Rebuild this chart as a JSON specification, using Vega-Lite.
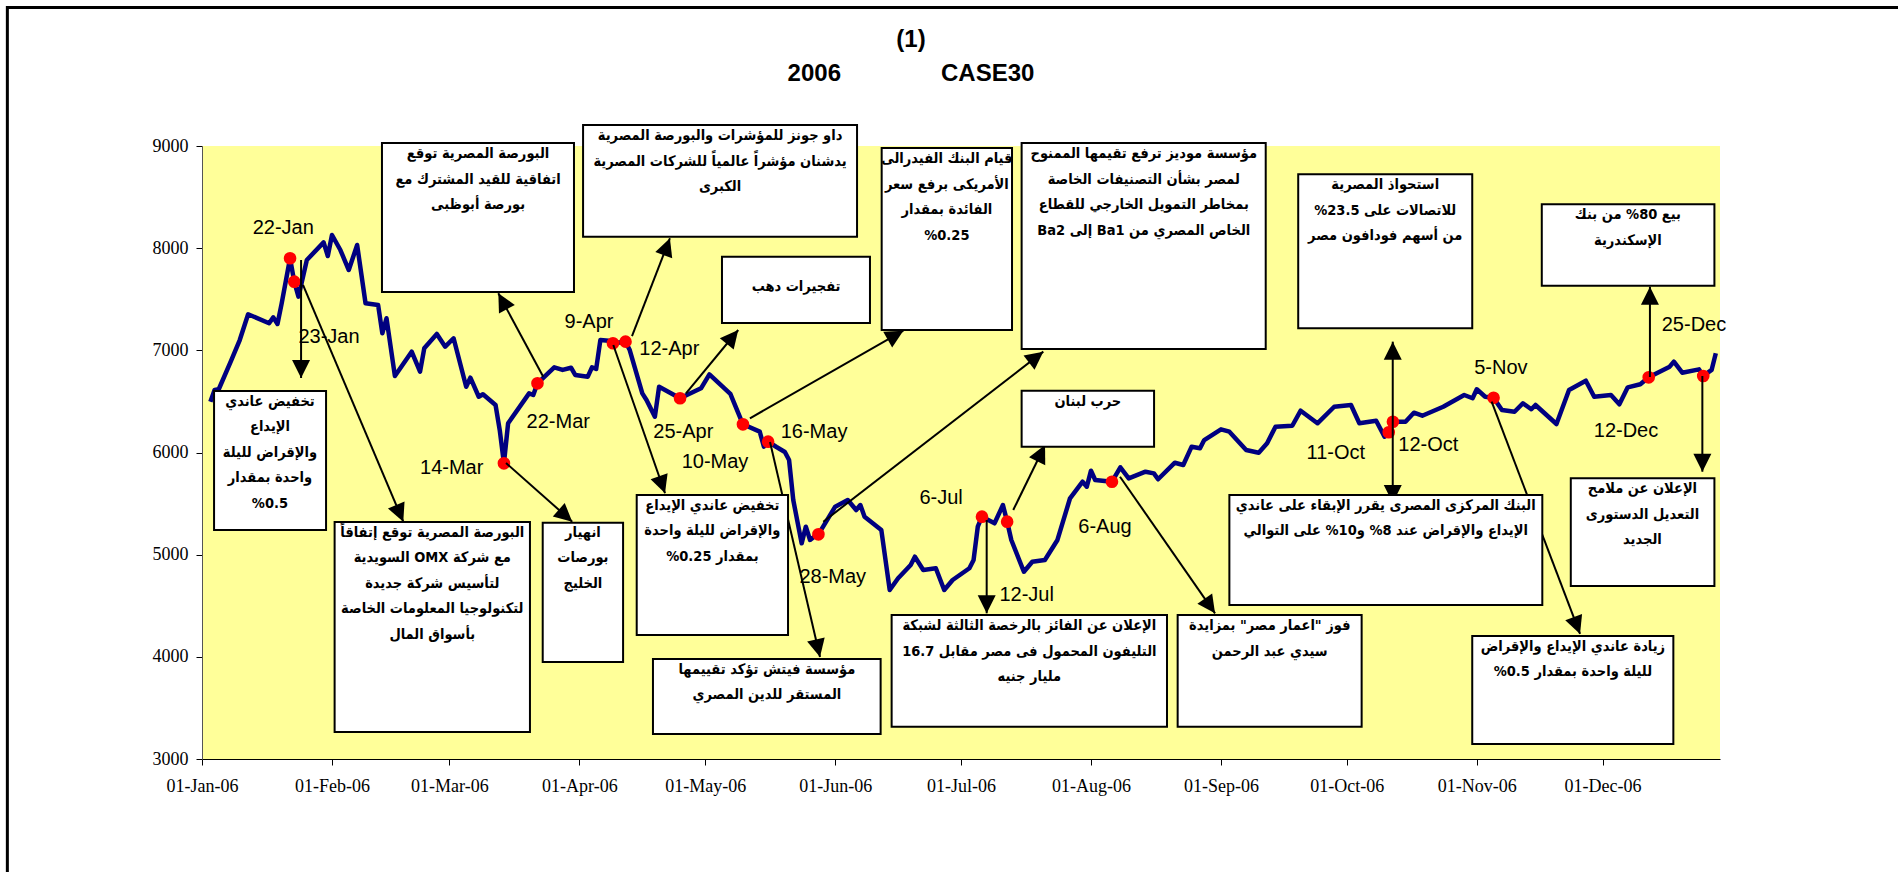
{
  "$schema": "https://vega.github.io/schema/vega-lite/v6.json",
  "width": 1518,
  "height": 613,
  "autosize": {"type": "none"},
  "padding": {"left": 202, "top": 146, "right": 178, "bottom": 113},
  "background": "white",
  "title": {
    "text": ["(1)", "2006\u00a0\u00a0\u00a0\u00a0\u00a0\u00a0\u00a0\u00a0\u00a0\u00a0\u00a0\u00a0\u00a0\u00a0\u00a0CASE30\u00a0\u00a0\u00a0\u00a0\u00a0"],
    "anchor": "middle",
    "frame": "group",
    "dx": -50,
    "offset": -80,
    "baseline": "top",
    "lineHeight": 34,
    "font": "Liberation Sans",
    "fontSize": 24,
    "fontWeight": "bold",
    "color": "#000"
  },
  "config": {
    "view": {"fill": "#FFFF99", "stroke": null},
    "axis": {"labelFont": "Liberation Serif", "labelFontSize": 18, "labelColor": "#000", "tickColor": "#000", "domainColor": "#000", "tickSize": 6, "grid": false}
  },
  "datasets": {
    "frame": [{"x1": "2005-11-15T14:00:00Z", "x2": "2007-03-01", "y1": 10356, "y2": 1000}],
    "series": [
      {"date": "2006-01-03", "value": 6497}, {"date": "2006-01-04", "value": 6612}, {"date": "2006-01-05", "value": 6619},
      {"date": "2006-01-08", "value": 6905}, {"date": "2006-01-10", "value": 7101}, {"date": "2006-01-12", "value": 7353},
      {"date": "2006-01-17", "value": 7265}, {"date": "2006-01-18", "value": 7323}, {"date": "2006-01-19", "value": 7258},
      {"date": "2006-01-20", "value": 7460}, {"date": "2006-01-22", "value": 7901}, {"date": "2006-01-23", "value": 7672},
      {"date": "2006-01-24", "value": 7525}, {"date": "2006-01-26", "value": 7884}, {"date": "2006-01-30", "value": 8057},
      {"date": "2006-01-31", "value": 7923}, {"date": "2006-02-01", "value": 8129}, {"date": "2006-02-03", "value": 7982},
      {"date": "2006-02-05", "value": 7786}, {"date": "2006-02-07", "value": 8031}, {"date": "2006-02-09", "value": 7460},
      {"date": "2006-02-12", "value": 7444}, {"date": "2006-02-13", "value": 7167}, {"date": "2006-02-14", "value": 7314},
      {"date": "2006-02-16", "value": 6749}, {"date": "2006-02-20", "value": 6987}, {"date": "2006-02-22", "value": 6791},
      {"date": "2006-02-23", "value": 7020}, {"date": "2006-02-26", "value": 7160}, {"date": "2006-02-28", "value": 7036},
      {"date": "2006-03-02", "value": 7118}, {"date": "2006-03-05", "value": 6644}, {"date": "2006-03-06", "value": 6732},
      {"date": "2006-03-08", "value": 6546}, {"date": "2006-03-09", "value": 6570}, {"date": "2006-03-12", "value": 6465},
      {"date": "2006-03-13", "value": 6220}, {"date": "2006-03-14", "value": 5894}, {"date": "2006-03-15", "value": 6286},
      {"date": "2006-03-20", "value": 6579}, {"date": "2006-03-21", "value": 6563}, {"date": "2006-03-22", "value": 6677},
      {"date": "2006-03-26", "value": 6834}, {"date": "2006-03-28", "value": 6808}, {"date": "2006-03-30", "value": 6830},
      {"date": "2006-03-31", "value": 6759}, {"date": "2006-04-03", "value": 6742}, {"date": "2006-04-04", "value": 6834},
      {"date": "2006-04-05", "value": 6817}, {"date": "2006-04-06", "value": 7101}, {"date": "2006-04-08", "value": 7094},
      {"date": "2006-04-09", "value": 7069}, {"date": "2006-04-12", "value": 7085}, {"date": "2006-04-13", "value": 7003},
      {"date": "2006-04-16", "value": 6579}, {"date": "2006-04-17", "value": 6514}, {"date": "2006-04-19", "value": 6350},
      {"date": "2006-04-20", "value": 6644}, {"date": "2006-04-25", "value": 6531}, {"date": "2006-04-30", "value": 6628},
      {"date": "2006-05-02", "value": 6765}, {"date": "2006-05-07", "value": 6573}, {"date": "2006-05-10", "value": 6276},
      {"date": "2006-05-14", "value": 6204}, {"date": "2006-05-15", "value": 6057}, {"date": "2006-05-16", "value": 6106},
      {"date": "2006-05-18", "value": 6054}, {"date": "2006-05-20", "value": 6005}, {"date": "2006-05-21", "value": 5927},
      {"date": "2006-05-22", "value": 5535}, {"date": "2006-05-24", "value": 5111}, {"date": "2006-05-25", "value": 5274},
      {"date": "2006-05-26", "value": 5144}, {"date": "2006-05-27", "value": 5176}, {"date": "2006-05-28", "value": 5199},
      {"date": "2006-06-01", "value": 5470}, {"date": "2006-06-04", "value": 5535}, {"date": "2006-06-06", "value": 5437},
      {"date": "2006-06-07", "value": 5486}, {"date": "2006-06-08", "value": 5372}, {"date": "2006-06-12", "value": 5241},
      {"date": "2006-06-14", "value": 4654}, {"date": "2006-06-16", "value": 4769}, {"date": "2006-06-19", "value": 4899},
      {"date": "2006-06-20", "value": 4980}, {"date": "2006-06-22", "value": 4850}, {"date": "2006-06-25", "value": 4867},
      {"date": "2006-06-27", "value": 4654}, {"date": "2006-06-29", "value": 4752}, {"date": "2006-07-03", "value": 4867},
      {"date": "2006-07-04", "value": 4948}, {"date": "2006-07-05", "value": 5274}, {"date": "2006-07-06", "value": 5372},
      {"date": "2006-07-09", "value": 5307}, {"date": "2006-07-11", "value": 5486}, {"date": "2006-07-12", "value": 5323},
      {"date": "2006-07-13", "value": 5144}, {"date": "2006-07-16", "value": 4833}, {"date": "2006-07-18", "value": 4931},
      {"date": "2006-07-21", "value": 4948}, {"date": "2006-07-24", "value": 5144}, {"date": "2006-07-27", "value": 5552},
      {"date": "2006-07-30", "value": 5714}, {"date": "2006-07-31", "value": 5665}, {"date": "2006-08-01", "value": 5822},
      {"date": "2006-08-02", "value": 5731}, {"date": "2006-08-06", "value": 5714}, {"date": "2006-08-08", "value": 5855},
      {"date": "2006-08-10", "value": 5747}, {"date": "2006-08-14", "value": 5812}, {"date": "2006-08-16", "value": 5796},
      {"date": "2006-08-17", "value": 5738}, {"date": "2006-08-21", "value": 5900}, {"date": "2006-08-23", "value": 5878},
      {"date": "2006-08-25", "value": 6057}, {"date": "2006-08-27", "value": 6041}, {"date": "2006-08-28", "value": 6122},
      {"date": "2006-09-01", "value": 6227}, {"date": "2006-09-03", "value": 6204}, {"date": "2006-09-07", "value": 6024},
      {"date": "2006-09-10", "value": 5998}, {"date": "2006-09-12", "value": 6090}, {"date": "2006-09-14", "value": 6253},
      {"date": "2006-09-18", "value": 6262}, {"date": "2006-09-20", "value": 6409}, {"date": "2006-09-24", "value": 6286},
      {"date": "2006-09-28", "value": 6448}, {"date": "2006-10-02", "value": 6465}, {"date": "2006-10-04", "value": 6286},
      {"date": "2006-10-08", "value": 6311}, {"date": "2006-10-10", "value": 6155}, {"date": "2006-10-11", "value": 6198},
      {"date": "2006-10-12", "value": 6301}, {"date": "2006-10-15", "value": 6301}, {"date": "2006-10-17", "value": 6390},
      {"date": "2006-10-19", "value": 6360}, {"date": "2006-10-24", "value": 6448}, {"date": "2006-10-29", "value": 6563},
      {"date": "2006-10-31", "value": 6531}, {"date": "2006-11-01", "value": 6619}, {"date": "2006-11-03", "value": 6546},
      {"date": "2006-11-05", "value": 6536}, {"date": "2006-11-07", "value": 6416}, {"date": "2006-11-10", "value": 6399},
      {"date": "2006-11-12", "value": 6482}, {"date": "2006-11-14", "value": 6423}, {"date": "2006-11-15", "value": 6465},
      {"date": "2006-11-20", "value": 6279}, {"date": "2006-11-23", "value": 6612}, {"date": "2006-11-27", "value": 6703},
      {"date": "2006-11-29", "value": 6546}, {"date": "2006-12-03", "value": 6563}, {"date": "2006-12-05", "value": 6472},
      {"date": "2006-12-07", "value": 6638}, {"date": "2006-12-10", "value": 6668}, {"date": "2006-12-12", "value": 6736},
      {"date": "2006-12-17", "value": 6840}, {"date": "2006-12-18", "value": 6889}, {"date": "2006-12-20", "value": 6781},
      {"date": "2006-12-24", "value": 6814}, {"date": "2006-12-25", "value": 6749}, {"date": "2006-12-27", "value": 6808},
      {"date": "2006-12-28", "value": 6971}
    ],
    "events": [
      {"date": "2006-01-22", "value": 7901, "label": "22-Jan", "ld": "2006-01-20T09:00:00Z", "lv": 8200},
      {"date": "2006-01-23", "value": 7672, "label": "23-Jan", "ld": "2006-01-31T07:00:00Z", "lv": 7134},
      {"date": "2006-03-14", "value": 5894, "label": "14-Mar", "ld": "2006-03-01T13:00:00Z", "lv": 5845},
      {"date": "2006-03-22", "value": 6677, "label": "22-Mar", "ld": "2006-03-26T23:00:00Z", "lv": 6301},
      {"date": "2006-04-09", "value": 7069, "label": "9-Apr", "ld": "2006-04-03T07:00:00Z", "lv": 7280},
      {"date": "2006-04-12", "value": 7085, "label": "12-Apr", "ld": "2006-04-22T11:00:00Z", "lv": 7013},
      {"date": "2006-04-25", "value": 6531, "label": "25-Apr", "ld": "2006-04-25T19:00:00Z", "lv": 6204},
      {"date": "2006-05-10", "value": 6276, "label": "10-May", "ld": "2006-05-03T08:00:00Z", "lv": 5907},
      {"date": "2006-05-16", "value": 6106, "label": "16-May", "ld": "2006-05-26T23:00:00Z", "lv": 6204},
      {"date": "2006-05-28", "value": 5199, "label": "28-May", "ld": "2006-05-31T10:00:00Z", "lv": 4784},
      {"date": "2006-07-06", "value": 5372, "label": "6-Jul", "ld": "2006-06-26T06:00:00Z", "lv": 5552},
      {"date": "2006-07-12", "value": 5323, "label": "12-Jul", "ld": "2006-07-16T16:00:00Z", "lv": 4605},
      {"date": "2006-08-06", "value": 5714, "label": "6-Aug", "ld": "2006-08-04T08:00:00Z", "lv": 5274},
      {"date": "2006-10-11", "value": 6198, "label": "11-Oct", "ld": "2006-09-28T09:00:00Z", "lv": 5992},
      {"date": "2006-10-12", "value": 6301, "label": "12-Oct", "ld": "2006-10-20T11:00:00Z", "lv": 6073},
      {"date": "2006-11-05", "value": 6536, "label": "5-Nov", "ld": "2006-11-06T18:00:00Z", "lv": 6830},
      {"date": "2006-12-12", "value": 6736, "label": "12-Dec", "ld": "2006-12-06T14:00:00Z", "lv": 6213},
      {"date": "2006-12-25", "value": 6749, "label": "25-Dec", "ld": "2006-12-22T19:00:00Z", "lv": 7248}
    ],
    "arrows": [
      {"x1": "2006-01-24T15:00:00Z", "y1": 7884, "x2": "2006-01-24T15:00:00Z", "y2": 6729, "angle": 180},
      {"x1": "2006-01-25T02:00:00Z", "y1": 7640, "x2": "2006-02-18T00:00:00Z", "y2": 5323, "angle": 157},
      {"x1": "2006-03-23T09:00:00Z", "y1": 6742, "x2": "2006-03-12T16:00:00Z", "y2": 7558, "angle": -28.4},
      {"x1": "2006-03-14T12:00:00Z", "y1": 5897, "x2": "2006-03-30T07:00:00Z", "y2": 5323, "angle": 131.5},
      {"x1": "2006-04-09T02:00:00Z", "y1": 7052, "x2": "2006-04-21T10:00:00Z", "y2": 5601, "angle": 160.8},
      {"x1": "2006-05-16T11:00:00Z", "y1": 6103, "x2": "2006-05-28T09:00:00Z", "y2": 3998, "angle": 166.9},
      {"x1": "2006-04-13T13:00:00Z", "y1": 7140, "x2": "2006-04-22T14:00:00Z", "y2": 8097, "angle": 20},
      {"x1": "2006-04-26T10:00:00Z", "y1": 6579, "x2": "2006-05-08T21:00:00Z", "y2": 7199, "angle": 39.6},
      {"x1": "2006-05-11T16:00:00Z", "y1": 6335, "x2": "2006-06-17T06:00:00Z", "y2": 7192, "angle": 60.3},
      {"x1": "2006-05-29T04:00:00Z", "y1": 5323, "x2": "2006-07-20T15:00:00Z", "y2": 6987, "angle": 52.3},
      {"x1": "2006-07-07T03:00:00Z", "y1": 5339, "x2": "2006-07-07T03:00:00Z", "y2": 4426, "angle": 180},
      {"x1": "2006-07-13T11:00:00Z", "y1": 5437, "x2": "2006-07-21T01:00:00Z", "y2": 6073, "angle": 26},
      {"x1": "2006-08-07T22:00:00Z", "y1": 5763, "x2": "2006-08-30T14:00:00Z", "y2": 4426, "angle": 145.2},
      {"x1": "2006-10-11T23:00:00Z", "y1": 6250, "x2": "2006-10-11T23:00:00Z", "y2": 7085, "angle": 0},
      {"x1": "2006-10-11T23:00:00Z", "y1": 6250, "x2": "2006-10-11T23:00:00Z", "y2": 5506, "angle": 180},
      {"x1": "2006-11-04T13:00:00Z", "y1": 6497, "x2": "2006-11-25T15:00:00Z", "y2": 4224, "angle": 159.2},
      {"x1": "2006-12-12T07:00:00Z", "y1": 6739, "x2": "2006-12-12T07:00:00Z", "y2": 7623, "angle": 0},
      {"x1": "2006-12-24T19:00:00Z", "y1": 6749, "x2": "2006-12-24T19:00:00Z", "y2": 5812, "angle": 180}
    ],
    "boxes": [
      {"x1": "2006-01-03T21:00:00Z", "x2": "2006-01-30T14:00:00Z", "y1": 6602, "y2": 5241, "xc": "2006-01-17T05:00:00Z", "ty": 6563, "lines": ["\u202Bتخفيض عاندي\u202C", "\u202Bالإيداع\u202C", "\u202Bوالإقراض لليلة\u202C", "\u202Bواحدة بمقدار\u202C", "%0.5"]},
      {"x1": "2006-02-12T22:00:00Z", "x2": "2006-03-30T17:00:00Z", "y1": 9029, "y2": 7571, "xc": "2006-03-07T20:00:00Z", "ty": 8990, "lines": ["\u202Bالبورصة المصرية توقع\u202C", "\u202Bاتفاقية للقيد المشترك مع\u202C", "\u202Bبورصة أبوظبى\u202C"]},
      {"x1": "2006-02-01T15:00:00Z", "x2": "2006-03-20T05:00:00Z", "y1": 5320, "y2": 3264, "xc": "2006-02-24T22:00:00Z", "ty": 5281, "lines": ["\u202Bالبورصة المصرية توقع إتفاقاً\u202C", "\u202Bمع شركة OMX السويدية\u202C", "\u202Bلتأسيس شركة جديدة\u202C", "\u202Bلتكنولوجيا المعلومات الخاصة\u202C", "\u202Bبأسواق المال\u202C"]},
      {"x1": "2006-03-23T06:00:00Z", "x2": "2006-04-11T10:00:00Z", "y1": 5313, "y2": 3949, "xc": "2006-04-01T20:00:00Z", "ty": 5281, "lines": ["\u202Bانهيار\u202C", "\u202Bبورصات\u202C", "\u202Bالخليج\u202C"]},
      {"x1": "2006-04-14T16:00:00Z", "x2": "2006-05-20T18:00:00Z", "y1": 5584, "y2": 4214, "xc": "2006-05-02T17:00:00Z", "ty": 5545, "lines": ["\u202Bتخفيض عاندي الإيداع\u202C", "\u202Bوالإقراض لليلة واحدة\u202C", "\u202Bبمقدار 0.25%\u202C"]},
      {"x1": "2006-04-18T13:00:00Z", "x2": "2006-06-11T20:00:00Z", "y1": 3979, "y2": 3245, "xc": "2006-05-15T17:00:00Z", "ty": 3940, "lines": ["\u202Bمؤسسة فيتش تؤكد تقييمها\u202C", "\u202Bالمستقر للدين المصري\u202C"]},
      {"x1": "2006-04-01T21:00:00Z", "x2": "2006-06-06T05:00:00Z", "y1": 9206, "y2": 8112, "xc": "2006-05-04T13:00:00Z", "ty": 9166, "lines": ["\u202Bداو جونز للمؤشرات والبورصة المصرية\u202C", "\u202Bيدشنان مؤشراً عالمياً للشركات المصرية\u202C", "\u202Bالكبرى\u202C"]},
      {"x1": "2006-05-05T00:00:00Z", "x2": "2006-06-09T07:00:00Z", "y1": 7917, "y2": 7268, "xc": "2006-05-22T16:00:00Z", "ty": 7689, "lines": ["\u202Bتفجيرات دهب\u202C"]},
      {"x1": "2006-06-12T02:00:00Z", "x2": "2006-07-13T04:00:00Z", "y1": 8980, "y2": 7199, "xc": "2006-06-27T15:00:00Z", "ty": 8941, "lines": ["\u202Bقيام البنك الفيدرالى\u202C", "\u202Bالأمريكى برفع سعر\u202C", "\u202Bالفائدة بمقدار\u202C", "%0.25"]},
      {"x1": "2006-07-15T11:00:00Z", "x2": "2006-09-11T16:00:00Z", "y1": 9029, "y2": 7013, "xc": "2006-08-13T14:00:00Z", "ty": 8990, "lines": ["\u202Bمؤسسة موديز ترفع تقيمها الممنوح\u202C", "\u202Bلمصر بشأن التصنيفات الخاصة\u202C", "\u202Bبمخاطر التمويل الخارجي للقطاع\u202C", "\u202Bالخاص المصري من Ba1 إلى Ba2\u202C"]},
      {"x1": "2006-07-15T11:00:00Z", "x2": "2006-08-16T01:00:00Z", "y1": 6605, "y2": 6057, "xc": "2006-07-31T06:00:00Z", "ty": 6566, "lines": ["\u202Bحرب لبنان\u202C"]},
      {"x1": "2006-06-14T11:00:00Z", "x2": "2006-08-19T03:00:00Z", "y1": 4409, "y2": 3316, "xc": "2006-07-17T07:00:00Z", "ty": 4370, "lines": ["\u202Bالإعلان عن الفائز بالرخصة الثالثة لشبكة\u202C", "\u202Bالتليفون المحمول فى مصر مقابل 16.7\u202C", "\u202Bمليار جنيه\u202C"]},
      {"x1": "2006-08-21T16:00:00Z", "x2": "2006-10-04T13:00:00Z", "y1": 4409, "y2": 3316, "xc": "2006-09-12T15:00:00Z", "ty": 4370, "lines": ["\u202Bفوز \"اعمار مصر\" بمزايدة\u202C", "\u202Bسيدي عبد الرحمن\u202C"]},
      {"x1": "2006-09-03T00:00:00Z", "x2": "2006-11-16T15:00:00Z", "y1": 5584, "y2": 4507, "xc": "2006-10-10T07:00:00Z", "ty": 5545, "lines": ["\u202Bالبنك المركزى المصرى يقرر الإبقاء على عاندي\u202C", "\u202Bالإيداع والإقراض عند 8% و10% على التوالي\u202C"]},
      {"x1": "2006-10-30T22:00:00Z", "x2": "2006-12-17T21:00:00Z", "y1": 4204, "y2": 3147, "xc": "2006-11-23T22:00:00Z", "ty": 4165, "lines": ["\u202Bزيادة عاندي الإيداع والإقراض\u202C", "\u202Bلليلة واحدة بمقدار 0.5%\u202C"]},
      {"x1": "2006-11-23T10:00:00Z", "x2": "2006-12-27T16:00:00Z", "y1": 5747, "y2": 4693, "xc": "2006-12-10T12:00:00Z", "ty": 5708, "lines": ["\u202Bالإعلان عن ملامح\u202C", "\u202Bالتعديل الدستورى\u202C", "\u202Bالجديد\u202C"]},
      {"x1": "2006-09-19T10:00:00Z", "x2": "2006-10-30T22:00:00Z", "y1": 8723, "y2": 7216, "xc": "2006-10-10T04:00:00Z", "ty": 8684, "lines": ["\u202Bاستحواذ المصرية\u202C", "\u202Bللاتصالات على  23.5%\u202C", "\u202Bمن أسهم فودافون مصر\u202C"]},
      {"x1": "2006-11-16T12:00:00Z", "x2": "2006-12-27T16:00:00Z", "y1": 8429, "y2": 7633, "xc": "2006-12-07T01:00:00Z", "ty": 8390, "lines": ["\u202Bبيع 80% من بنك\u202C", "\u202Bالإسكندرية\u202C"]}
    ]
  },
  "layer": [
    {
      "data": {"name": "series"},
      "mark": {"type": "line", "color": "#000080", "strokeWidth": 4.5, "strokeJoin": "round", "clip": false},
      "encoding": {
        "x": {"field": "date", "type": "temporal", "title": null,
          "scale": {"type": "utc", "domain": [{"year": 2006, "month": 1, "date": 1, "utc": true}, {"year": 2006, "month": 12, "date": 29, "utc": true}], "nice": false},
          "axis": {"labelExpr": "utcFormat(datum.value, '%d-%b-%y')", "tickCount": {"interval": "month", "step": 1}, "labelPadding": 12, "labelFlush": false, "labelOverlap": false, "labelAngle": 0}},
        "y": {"field": "value", "type": "quantitative", "title": null,
          "scale": {"domain": [3000, 9000], "nice": false, "zero": false},
          "axis": {"values": [3000, 4000, 5000, 6000, 7000, 8000, 9000], "format": "d", "labelPadding": 8, "domainColor": "#555"}}
      }
    },
    {
      "data": {"name": "frame"},
      "mark": {"type": "rect", "filled": false, "stroke": "#000", "strokeWidth": 3},
      "encoding": {
        "x": {"field": "x1", "type": "temporal", "title": null},
        "x2": {"field": "x2"},
        "y": {"field": "y1", "type": "quantitative", "title": null},
        "y2": {"field": "y2"}
      }
    },
    {
      "data": {"name": "events"},
      "mark": {"type": "circle", "color": "#FF0000", "size": 160, "opacity": 1},
      "encoding": {
        "x": {"field": "date", "type": "temporal", "title": null},
        "y": {"field": "value", "type": "quantitative", "title": null}
      }
    },
    {
      "data": {"name": "arrows"},
      "mark": {"type": "rule", "color": "#000", "strokeWidth": 2},
      "encoding": {
        "x": {"field": "x1", "type": "temporal", "title": null},
        "x2": {"field": "x2"},
        "y": {"field": "y1", "type": "quantitative", "title": null},
        "y2": {"field": "y2"}
      }
    },
    {
      "data": {"name": "arrows"},
      "mark": {"type": "point", "shape": "M0,0L1,2L-1,2Z", "filled": true, "color": "#000", "size": 324, "opacity": 1, "strokeWidth": 0},
      "encoding": {
        "x": {"field": "x2", "type": "temporal", "title": null},
        "y": {"field": "y2", "type": "quantitative", "title": null},
        "angle": {"field": "angle", "type": "quantitative", "scale": null}
      }
    },
    {
      "data": {"name": "boxes"},
      "mark": {"type": "rect", "fill": "#FFFFFF", "stroke": "#000", "strokeWidth": 2},
      "encoding": {
        "x": {"field": "x1", "type": "temporal", "title": null},
        "x2": {"field": "x2"},
        "y": {"field": "y1", "type": "quantitative", "title": null},
        "y2": {"field": "y2"}
      }
    },
    {
      "data": {"name": "boxes"},
      "mark": {"type": "text", "font": "DejaVu Sans Condensed, DejaVu Sans", "fontWeight": "bold", "fontSize": 14.5, "lineHeight": 25.5, "baseline": "top", "align": "center", "color": "#000"},
      "encoding": {
        "x": {"field": "xc", "type": "temporal", "title": null},
        "y": {"field": "ty", "type": "quantitative", "title": null},
        "text": {"field": "lines"}
      }
    },
    {
      "data": {"name": "events"},
      "mark": {"type": "text", "font": "Liberation Sans", "fontSize": 20, "baseline": "middle", "align": "center", "color": "#000"},
      "encoding": {
        "x": {"field": "ld", "type": "temporal", "title": null},
        "y": {"field": "lv", "type": "quantitative", "title": null},
        "text": {"field": "label"}
      }
    }
  ]
}
